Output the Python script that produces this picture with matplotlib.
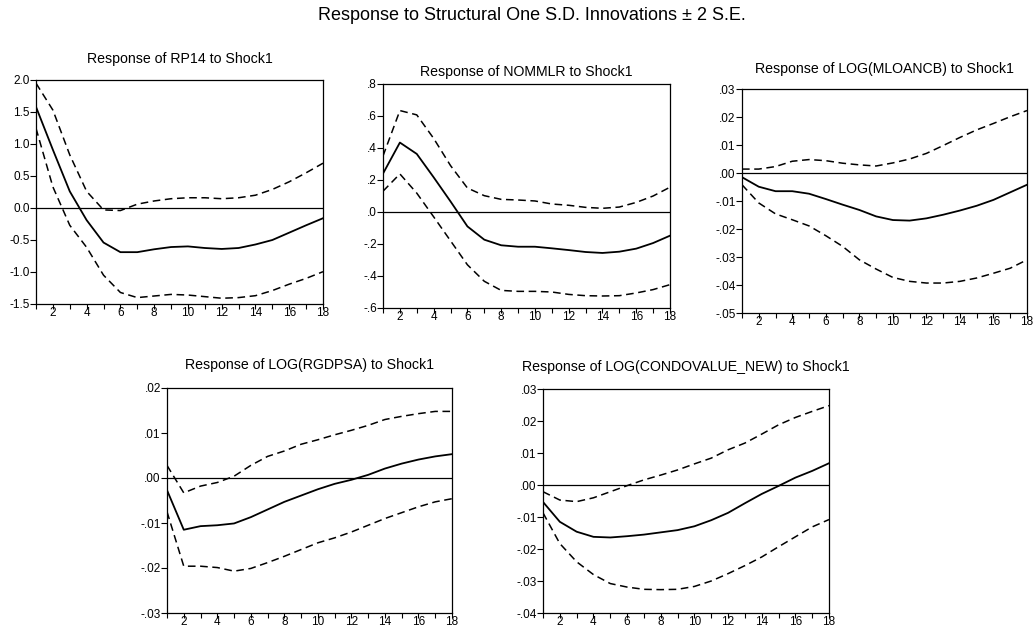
import matplotlib
matplotlib.use("Agg")
import matplotlib.pyplot as plt
from matplotlib.ticker import FuncFormatter, MultipleLocator
import numpy as np

plt.rcParams['font.family'] = ['Liberation Sans', 'DejaVu Sans']

periods = list(range(1, 19))

titles = [
    "Response of RP14 to Shock1",
    "Response of NOMMLR to Shock1",
    "Response of LOG(MLOANCB) to Shock1",
    "Response of LOG(RGDPSA) to Shock1",
    "Response of LOG(CONDOVALUE_NEW) to Shock1",
]

rp14_mid = [1.58, 0.91, 0.26, -0.19, -0.54, -0.69, -0.69, -0.645, -0.61, -0.60, -0.625, -0.64, -0.625, -0.57, -0.50, -0.385, -0.27, -0.16]
rp14_up = [1.95, 1.53, 0.83, 0.26, -0.03, -0.04, 0.06, 0.11, 0.145, 0.16, 0.16, 0.145, 0.16, 0.20, 0.29, 0.41, 0.55, 0.70]
rp14_lo = [1.245, 0.33, -0.27, -0.615, -1.05, -1.32, -1.40, -1.375, -1.35, -1.36, -1.385, -1.41, -1.40, -1.37, -1.29, -1.19, -1.10, -0.995]

nom_mid = [0.24, 0.434, 0.363, 0.217, 0.066, -0.09, -0.173, -0.208, -0.217, -0.217, -0.227, -0.238, -0.25, -0.256, -0.248, -0.229, -0.194, -0.148]
nom_up = [0.35, 0.634, 0.607, 0.46, 0.29, 0.15, 0.102, 0.079, 0.075, 0.069, 0.05, 0.042, 0.029, 0.023, 0.031, 0.06, 0.10, 0.155]
nom_lo = [0.13, 0.238, 0.118, -0.03, -0.18, -0.33, -0.433, -0.49, -0.496, -0.496, -0.50, -0.515, -0.523, -0.525, -0.523, -0.506, -0.485, -0.454]

mloan_mid = [-0.0015, -0.0049, -0.0065, -0.0065, -0.0074, -0.0093, -0.0113, -0.0132, -0.0155, -0.0168, -0.017, -0.0162, -0.0149, -0.0134, -0.0117, -0.0096, -0.0069, -0.0042]
mloan_up = [0.0014, 0.0014, 0.0023, 0.0042, 0.0048, 0.0044, 0.0035, 0.0029, 0.0025, 0.0036, 0.005, 0.007, 0.0098, 0.0127, 0.0154, 0.0177, 0.0201, 0.0223]
mloan_lo = [-0.0042, -0.0107, -0.0146, -0.0167, -0.0189, -0.0224, -0.0262, -0.031, -0.0343, -0.0373, -0.0387, -0.0393, -0.0393, -0.0387, -0.0375, -0.0358, -0.034, -0.031]

gdp_mid = [-0.0027, -0.0115, -0.0107, -0.0105, -0.0101, -0.0087, -0.007, -0.0053, -0.0039, -0.0025, -0.0013, -0.0004, 0.0007, 0.0021, 0.0032, 0.0041, 0.0048, 0.0053]
gdp_up = [0.0028, -0.0033, -0.0018, -0.001, 0.0004, 0.0028, 0.0048, 0.006, 0.0075, 0.0085, 0.0096, 0.0106, 0.0117, 0.013, 0.0137, 0.0143, 0.0148, 0.0148]
gdp_lo = [-0.0075, -0.0196, -0.0196, -0.0199, -0.0207, -0.0201, -0.0188, -0.0174, -0.0159, -0.0144, -0.0133, -0.012, -0.0105, -0.009, -0.0077, -0.0064, -0.0053, -0.0046]

condo_mid = [-0.0053, -0.0115, -0.0146, -0.0162, -0.0164, -0.016, -0.0155, -0.0148, -0.0141, -0.0129, -0.011, -0.0087, -0.0057, -0.0028, -0.0003, 0.0023, 0.0044, 0.0068]
condo_up = [-0.0021, -0.0047, -0.0052, -0.004, -0.0021, -0.0002, 0.0016, 0.0031, 0.0047, 0.0066, 0.0084, 0.011, 0.0131, 0.0159, 0.0188, 0.0211, 0.023, 0.0248]
condo_lo = [-0.0087, -0.0183, -0.024, -0.028, -0.0308, -0.0319, -0.0326, -0.0327, -0.0326, -0.0317, -0.03, -0.0277, -0.0252, -0.0225, -0.0193, -0.0162, -0.0131, -0.0108]

series = [
    (rp14_mid, rp14_up, rp14_lo),
    (nom_mid, nom_up, nom_lo),
    (mloan_mid, mloan_up, mloan_lo),
    (gdp_mid, gdp_up, gdp_lo),
    (condo_mid, condo_up, condo_lo),
]

ylims = [(-1.5, 2.0), (-0.6, 0.8), (-0.05, 0.03), (-0.03, 0.02), (-0.04, 0.03)]
ysteps = [0.5, 0.2, 0.01, 0.01, 0.01]
fmts = ["{:.1f}", "{:.1f}", "{:.2f}", "{:.2f}", "{:.2f}"]
strip_zero = [False, True, True, True, True]

# axes boxes in pixels: left, right, top, bottom
boxes = [
    (36, 323, 80, 304),
    (383, 670, 84, 308),
    (742, 1027, 89, 313),
    (167, 452, 388, 613),
    (543, 829, 389, 613),
]
# vertical centre of each panel title, pixels from top
title_y = [59, 72, 69, 365, 367]

W, H = 1036, 635
fig = plt.figure(figsize=(W / 100, H / 100), dpi=100)
fig.text(532 / W, 1 - 15 / H, "Response to Structural One S.D. Innovations \u00b1 2 S.E.",
         ha='center', va='center', fontsize=13)

def make_fmt(f, strip):
    def _f(v, pos):
        if abs(v) < 1e-12:
            v = 0.0
        s = f.format(v)
        if strip:
            if s.startswith("0."):
                s = s[1:]
            elif s.startswith("-0."):
                s = "-" + s[2:]
        return s
    return FuncFormatter(_f)

for i, (box, (mid, up, lo)) in enumerate(zip(boxes, series)):
    l, r, t, b = box
    ax = fig.add_axes([l / W, 1 - b / H, (r - l) / W, (b - t) / H])
    ax.axhline(0, color='black', lw=0.9)
    ax.plot(periods, mid, color='black', lw=1.3)
    ax.plot(periods, up, color='black', lw=1.1, ls=(0, (5, 3)))
    ax.plot(periods, lo, color='black', lw=1.1, ls=(0, (5, 3)))
    ax.set_xlim(1, 18)
    ax.set_ylim(*ylims[i])
    ax.set_xticks(periods)
    ax.set_xticklabels([str(p) if p % 2 == 0 else "" for p in periods])
    ax.yaxis.set_major_locator(MultipleLocator(ysteps[i]))
    ax.yaxis.set_major_formatter(make_fmt(fmts[i], strip_zero[i]))
    ax.tick_params(axis='x', direction='out', length=3.5, width=0.8, labelsize=8.5, pad=-1.5, colors='black')
    ax.tick_params(axis='y', direction='out', length=4, width=0.8, labelsize=8.5, pad=0.5, colors='black')
    for sp in ax.spines.values():
        sp.set_linewidth(0.9)
        sp.set_color('black')
    fig.text((l + r) / 2 / W, 1 - title_y[i] / H, titles[i], ha='center', va='center', fontsize=10.2)

fig.savefig("out.png", dpi=100)
